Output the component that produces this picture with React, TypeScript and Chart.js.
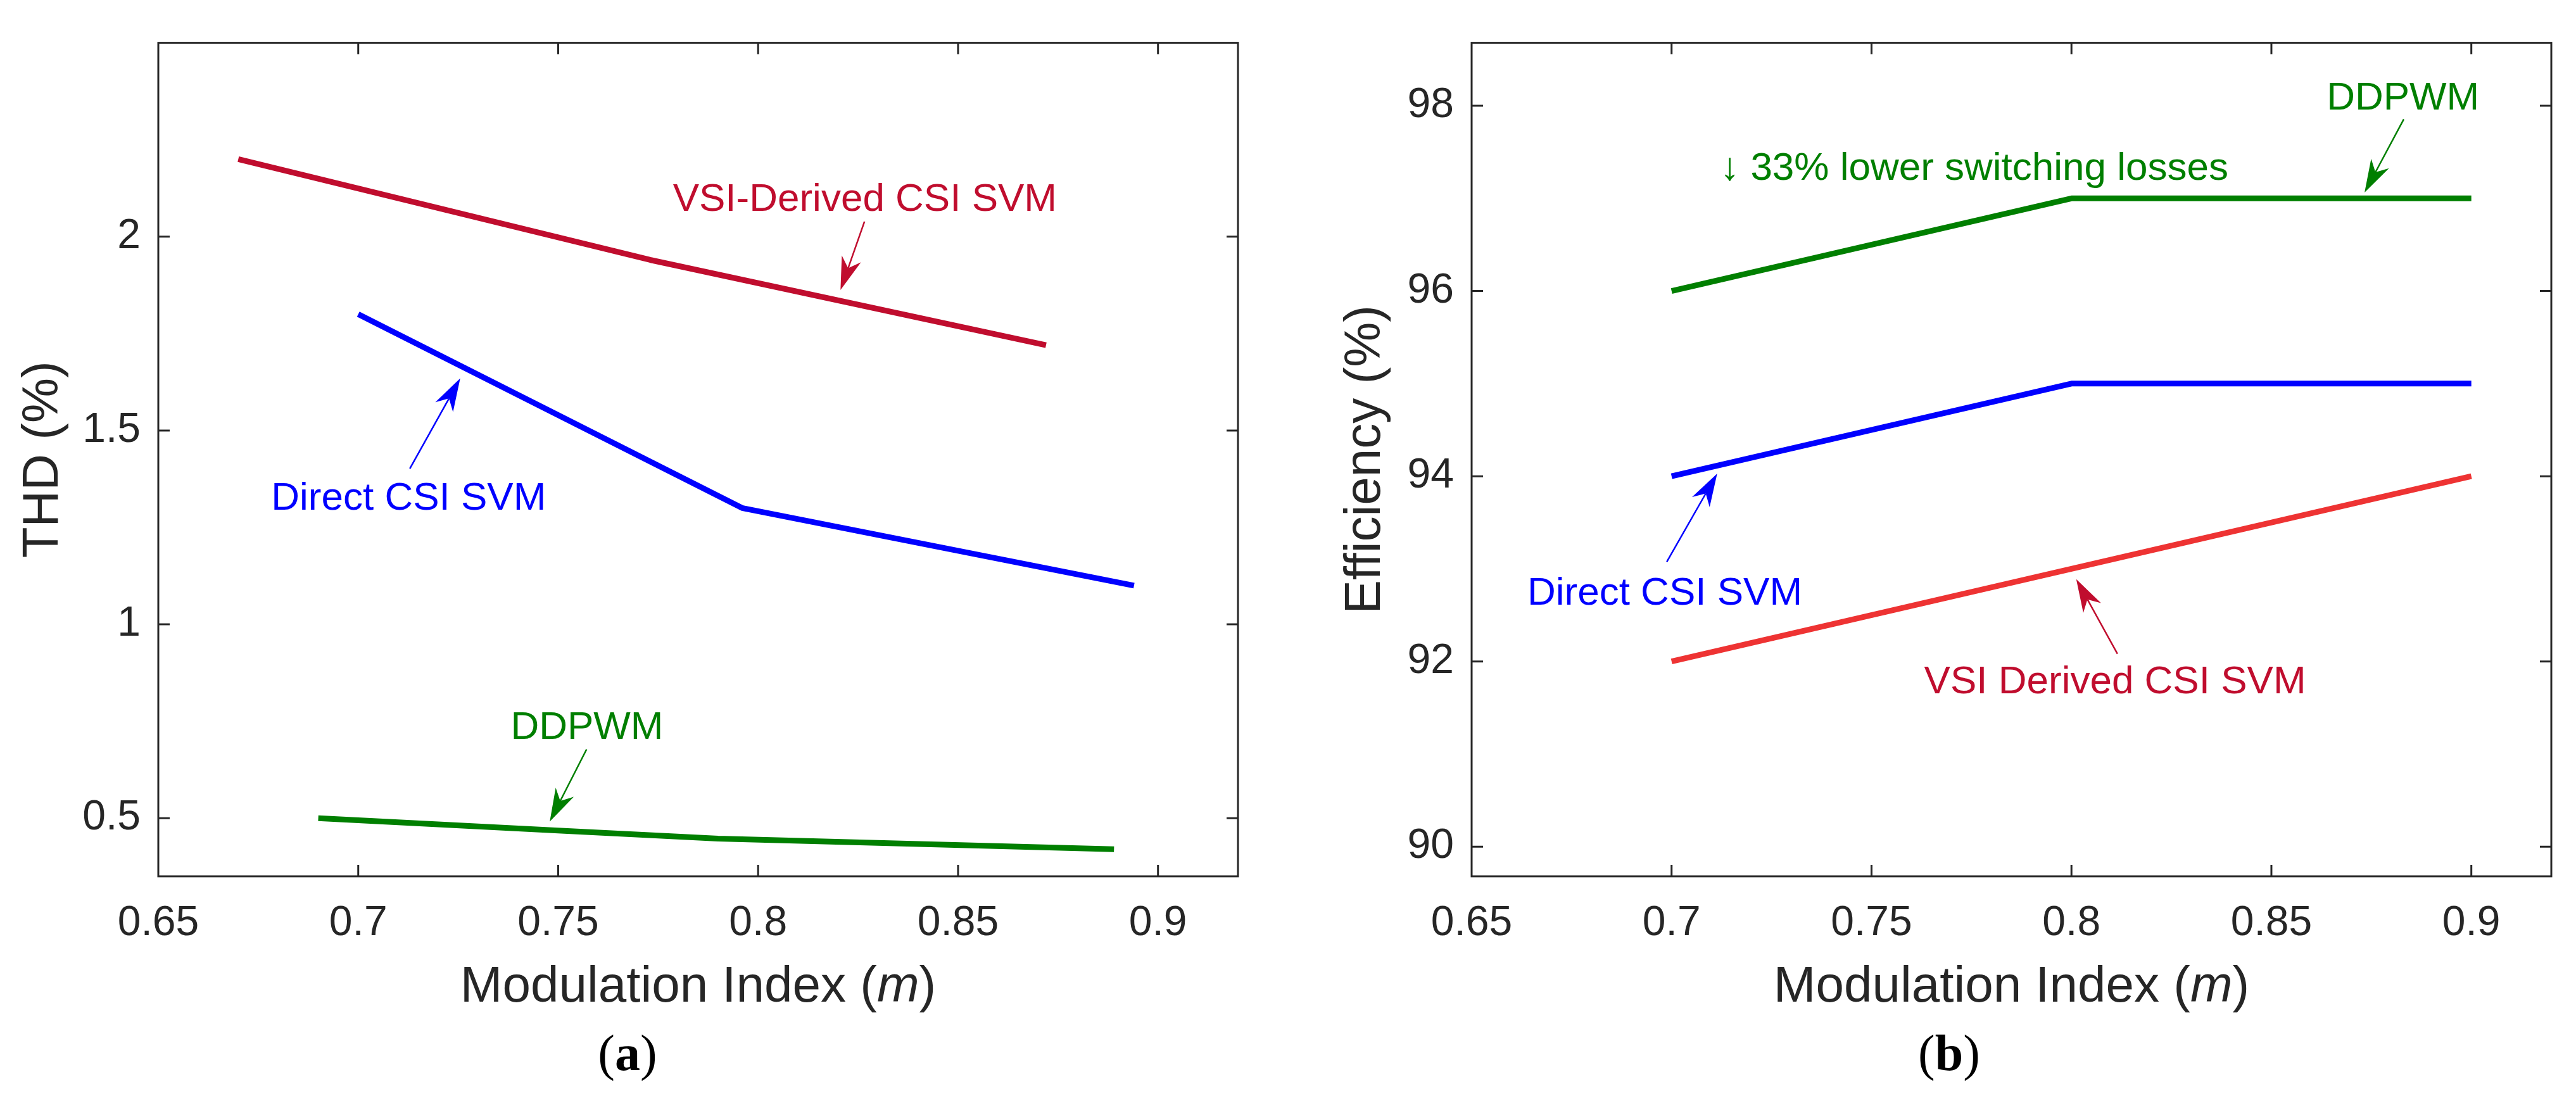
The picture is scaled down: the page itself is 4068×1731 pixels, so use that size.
import React, { useEffect, useRef } from 'react';
import Chart from 'chart.js/auto';

const SANS = '"Liberation Sans", Arial, Helvetica, sans-serif';
const SERIF = '"Liberation Serif", "Times New Roman", serif';
const INK = '#262626';
const CRIMSON = '#C00D2E';
const RED = '#EE3333';
const BLUE = '#0000FF';
const GREEN = '#007F00';

// shared x axis
const xTicks = [0.65, 0.7, 0.75, 0.8, 0.85, 0.9];

// (a) THD vs modulation index
const thdVsiM = [0.67, 0.773, 0.872];
const thdVsi = [2.2, 1.94, 1.72];
const thdDirectM = [0.7, 0.796, 0.894];
const thdDirect = [1.8, 1.3, 1.1];
const thdDdpwmM = [0.69, 0.75, 0.79, 0.889];
const thdDdpwm = [0.5, 0.468, 0.447, 0.42];
const thdTicks = [0.5, 1, 1.5, 2];

// (b) efficiency vs modulation index
const effM = [0.7, 0.8, 0.9];
const effDdpwm = [96, 97, 97];
const effDirect = [94, 95, 95];
const effVsi = [92, 93, 94];
const effTicks = [90, 92, 94, 96, 98];

type Note = {
  text: string;
  color: string;
  x: number;
  y: number;
  align: CanvasTextAlign;
  arrow?: [number, number, number, number];
};

const notesA: Note[] = [
  { text: 'VSI-Derived CSI SVM', color: CRIMSON, x: 0.8267, y: 2.0665, align: 'center', arrow: [0.8266, 2.039, 0.8206, 1.8625] },
  { text: 'Direct CSI SVM', color: BLUE, x: 0.7126, y: 1.2957, align: 'center', arrow: [0.7129, 1.4017, 0.7255, 1.6345] },
  { text: 'DDPWM', color: GREEN, x: 0.7572, y: 0.7048, align: 'center', arrow: [0.7571, 0.6775, 0.7479, 0.4913] },
];

const notesB: Note[] = [
  { text: 'DDPWM', color: GREEN, x: 0.8829, y: 97.962, align: 'center', arrow: [0.8831, 97.854, 0.8733, 97.063] },
  { text: '\u2193 33% lower switching losses', color: GREEN, x: 0.7121, y: 97.203, align: 'left' },
  { text: 'Direct CSI SVM', color: BLUE, x: 0.6983, y: 92.613, align: 'center', arrow: [0.6988, 93.076, 0.7114, 94.029] },
  { text: 'VSI Derived CSI SVM', color: CRIMSON, x: 0.8109, y: 91.653, align: 'center', arrow: [0.8115, 92.083, 0.8012, 92.888] },
];

interface Series {
  m: number[];
  v: number[];
  color: string;
}

interface PanelProps {
  left: number;
  series: Series[];
  notes: Note[];
  yMin: number;
  yMax: number;
  yTicks: number[];
  yTitle: string;
  yTitleX: number;
  caption: string;
  captionX: number;
  padTop: number;
  padRight: number;
  yAxisWidth: number;
}

const W = 2034;
const H = 1731;

// draws a MATLAB-style annotation arrow (thin shaft, notched head)
const drawArrow = (ctx: CanvasRenderingContext2D, x1: number, y1: number, x2: number, y2: number, color: string) => {
  const dx = x2 - x1;
  const dy = y2 - y1;
  const len = Math.hypot(dx, dy);
  const ux = dx / len;
  const uy = dy / len;
  const nx = -uy;
  const ny = ux;
  const L = 52;
  const hw = 16;
  ctx.strokeStyle = color;
  ctx.fillStyle = color;
  ctx.lineWidth = 2.5;
  ctx.beginPath();
  ctx.moveTo(x1, y1);
  ctx.lineTo(x2 - ux * L * 0.7, y2 - uy * L * 0.7);
  ctx.stroke();
  ctx.beginPath();
  ctx.moveTo(x2, y2);
  ctx.lineTo(x2 - ux * L + nx * hw, y2 - uy * L + ny * hw);
  ctx.lineTo(x2 - ux * L * 0.7, y2 - uy * L * 0.7);
  ctx.lineTo(x2 - ux * L - nx * hw, y2 - uy * L - ny * hw);
  ctx.closePath();
  ctx.fill();
};

const makeFramePlugin = (p: PanelProps) => ({
  id: 'matlabFrame',
  afterDraw(chart: any) {
    const { ctx, chartArea: a, scales } = chart;
    const xs = scales.x;
    const ys = scales.y;
    ctx.save();

    // text annotations + arrows
    ctx.font = `62px ${SANS}`;
    ctx.textBaseline = 'alphabetic';
    p.notes.forEach((n) => {
      ctx.fillStyle = n.color;
      ctx.textAlign = n.align;
      ctx.fillText(n.text, xs.getPixelForValue(n.x), ys.getPixelForValue(n.y));
      if (n.arrow) {
        const [ax1, ay1, ax2, ay2] = n.arrow;
        drawArrow(
          ctx,
          xs.getPixelForValue(ax1),
          ys.getPixelForValue(ay1),
          xs.getPixelForValue(ax2),
          ys.getPixelForValue(ay2),
          n.color
        );
      }
    });

    // box and inward ticks
    ctx.strokeStyle = INK;
    ctx.lineWidth = 3;
    ctx.strokeRect(a.left, a.top, a.right - a.left, a.bottom - a.top);
    const tl = 18;
    ctx.beginPath();
    xTicks.forEach((t) => {
      const px = xs.getPixelForValue(t);
      if (px <= a.left + 1 || px >= a.right - 1) return;
      ctx.moveTo(px, a.bottom);
      ctx.lineTo(px, a.bottom - tl);
      ctx.moveTo(px, a.top);
      ctx.lineTo(px, a.top + tl);
    });
    p.yTicks.forEach((t) => {
      const py = ys.getPixelForValue(t);
      ctx.moveTo(a.left, py);
      ctx.lineTo(a.left + tl, py);
      ctx.moveTo(a.right, py);
      ctx.lineTo(a.right - tl, py);
    });
    ctx.stroke();

    // x title with italic m
    ctx.fillStyle = INK;
    ctx.textAlign = 'left';
    const normal = `80px ${SANS}`;
    const italic = `italic 80px ${SANS}`;
    const parts: [string, string][] = [
      ['Modulation Index (', normal],
      ['m', italic],
      [')', normal],
    ];
    let total = 0;
    parts.forEach(([s, f]) => {
      ctx.font = f;
      total += ctx.measureText(s).width;
    });
    let cx = (a.left + a.right) / 2 - total / 2;
    parts.forEach(([s, f]) => {
      ctx.font = f;
      ctx.fillText(s, cx, 1582);
      cx += ctx.measureText(s).width;
    });

    // y title
    ctx.save();
    ctx.font = normal;
    ctx.textAlign = 'center';
    ctx.translate(p.yTitleX, (a.top + a.bottom) / 2);
    ctx.rotate(-Math.PI / 2);
    ctx.fillText(p.yTitle, 0, 0);
    ctx.restore();

    // panel caption "(a)" / "(b)"
    const capParts: [string, string][] = [
      ['(', `80px ${SERIF}`],
      [p.caption, `bold 80px ${SERIF}`],
      [')', `80px ${SERIF}`],
    ];
    let capW = 0;
    capParts.forEach(([s, f]) => {
      ctx.font = f;
      capW += ctx.measureText(s).width;
    });
    let kx = p.captionX - capW / 2;
    ctx.fillStyle = '#000000';
    capParts.forEach(([s, f]) => {
      ctx.font = f;
      ctx.fillText(s, kx, 1690);
      kx += ctx.measureText(s).width;
    });

    ctx.restore();
  },
});

const Panel: React.FC<PanelProps> = (props) => {
  const canvasRef = useRef<HTMLCanvasElement | null>(null);

  useEffect(() => {
    if (!canvasRef.current) return;
    const chart = new Chart(canvasRef.current, {
      type: 'line',
      data: {
        datasets: props.series.map((s) => ({
          data: s.m.map((m, i) => ({ x: m, y: s.v[i] })),
          borderColor: s.color,
          backgroundColor: s.color,
          borderWidth: 9,
          pointRadius: 0,
          tension: 0,
          fill: false,
          borderCapStyle: 'butt',
          borderJoinStyle: 'round',
        })),
      },
      options: {
        animation: false,
        responsive: false,
        devicePixelRatio: 1,
        layout: { padding: { top: props.padTop, right: props.padRight, left: 0, bottom: 0 } },
        plugins: { legend: { display: false }, tooltip: { enabled: false } },
        scales: {
          x: {
            type: 'linear',
            min: 0.65,
            max: 0.92,
            afterBuildTicks: (scale: any) => {
              scale.ticks = xTicks.map((v) => ({ value: v }));
            },
            afterFit: (scale: any) => {
              scale.height = H - 1384;
            },
            grid: { display: false, drawTicks: false },
            border: { display: false },
            ticks: {
              autoSkip: false,
              maxRotation: 0,
              padding: 35,
              color: INK,
              font: { family: SANS, size: 66 },
              callback: (v: any) => String(v),
            },
          },
          y: {
            type: 'linear',
            min: props.yMin,
            max: props.yMax,
            afterBuildTicks: (scale: any) => {
              scale.ticks = props.yTicks.map((v) => ({ value: v }));
            },
            afterFit: (scale: any) => {
              scale.width = props.yAxisWidth;
            },
            grid: { display: false, drawTicks: false },
            border: { display: false },
            ticks: {
              padding: 28,
              color: INK,
              font: { family: SANS, size: 66 },
              callback: (v: any) => String(v),
            },
          },
        },
      } as any,
      plugins: [makeFramePlugin(props)],
    });
    return () => chart.destroy();
  }, []);

  return (
    <div style={{ position: 'absolute', left: props.left, top: 0, width: W, height: H }}>
      <canvas ref={canvasRef} width={W} height={H} style={{ display: 'block' }} />
    </div>
  );
};

const App: React.FC = () => {
  useEffect(() => {
    document.body.style.margin = '0';
  }, []);

  return (
    <div style={{ position: 'absolute', left: 0, top: 0, width: 4068, height: H, background: '#ffffff' }}>
      <Panel
        left={0}
        series={[
          { m: thdVsiM, v: thdVsi, color: CRIMSON },
          { m: thdDirectM, v: thdDirect, color: BLUE },
          { m: thdDdpwmM, v: thdDdpwm, color: GREEN },
        ]}
        notes={notesA}
        yMin={0.35}
        yMax={2.5}
        yTicks={thdTicks}
        yTitle="THD (%)"
        yTitleX={91}
        caption="a"
        captionX={991}
        padTop={45}
        padRight={W - 1955}
        yAxisWidth={250}
      />
      <Panel
        left={W}
        series={[
          { m: effM, v: effDdpwm, color: GREEN },
          { m: effM, v: effDirect, color: BLUE },
          { m: effM, v: effVsi, color: RED },
        ]}
        notes={notesB}
        yMin={89.68}
        yMax={98.68}
        yTicks={effTicks}
        yTitle="Efficiency (%)"
        yTitleX={145}
        caption="b"
        captionX={1044}
        padTop={43}
        padRight={4068 - 4029}
        yAxisWidth={4324 - 2034 - 2000}
      />
    </div>
  );
};

export default App;
